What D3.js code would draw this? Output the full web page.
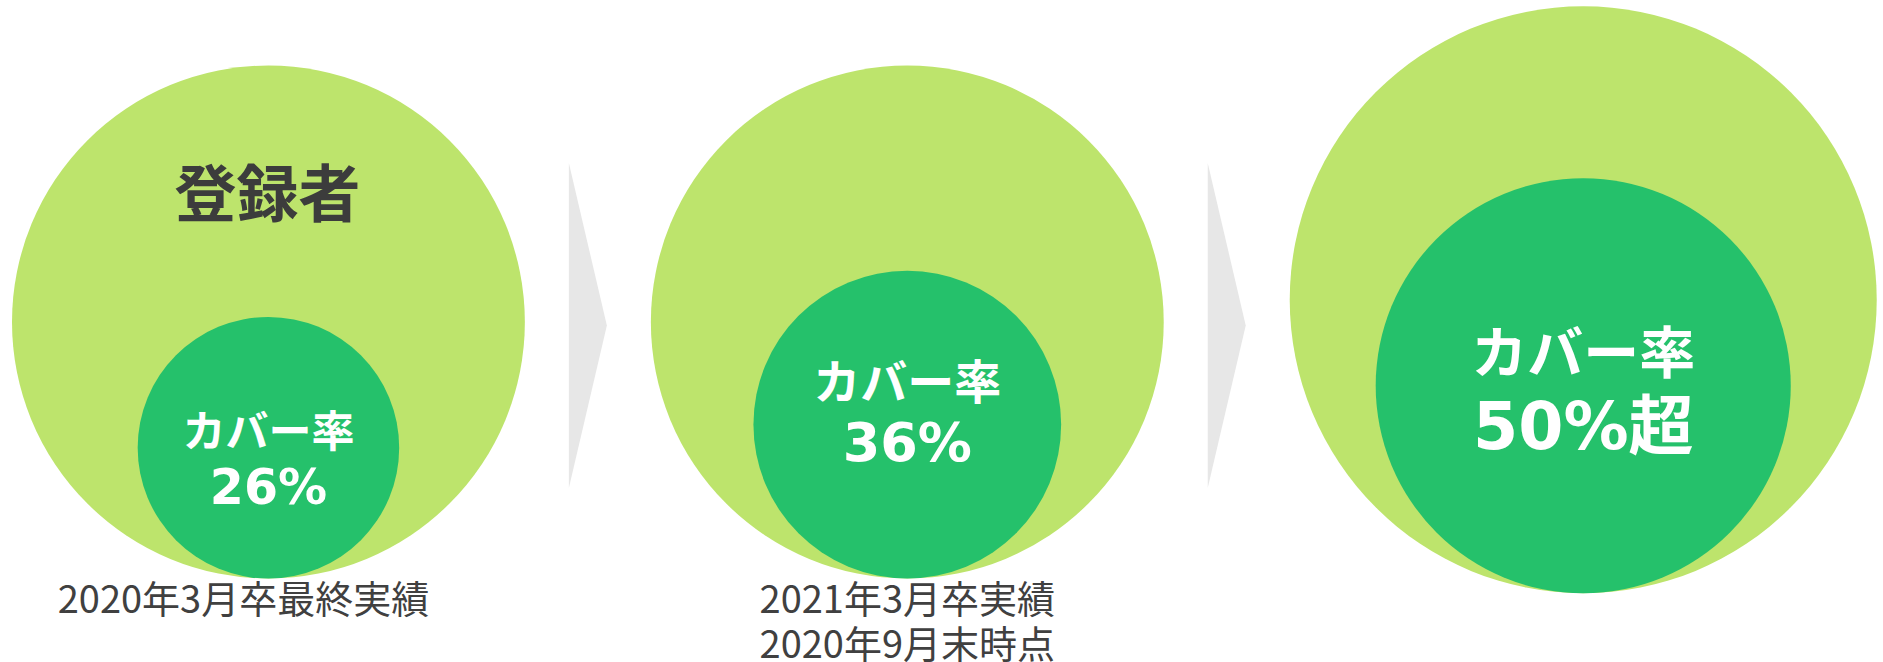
<!DOCTYPE html>
<html lang="ja">
<head>
<meta charset="utf-8">
<title>登録者とカバー率</title>
<script src="https://cdn.jsdelivr.net/npm/d3@7"></script>
<style>
  html, body { margin: 0; padding: 0; background: #ffffff; }
  svg { display: block; }
</style>
</head>
<body>
<svg id="chart"></svg>
<script>
// Data: registrant pool size (relative index) and coverage rate per period
const periods = ["2020年3月卒", "2021年3月卒", "目標"];
const registrantIndex = [100, 100, 131];
const coverageRate = [26, 36, 50];
const coverageText = ["26%", "36%", "50%超"];
const coverageTitle = "カバー率";
const outerTitle = "登録者";
const captions = [["2020年3月卒最終実績"], ["2021年3月卒実績", "2020年9月末時点"], []];

// Layout and style
const W = 1883, H = 662;
const leftEdge = 12, gap = 126, baseY = 322;
const outerColor = "#bde46c", innerColor = "#25c16b", arrowColor = "#e7e7e7";
const labelFont = [43, 47, 56];
const valueFont = [49, 54, 65];
const labelShiftY = [10, -14, 2];
const captionShift = [-25, 0, 0];
const cjk = "'Noto Sans CJK JP', 'Noto Sans', sans-serif";
const latin = "'DejaVu Sans', 'Noto Sans CJK JP', sans-serif";

const svg = d3.select("#chart").attr("width", W).attr("height", H);

// Outer circle area encodes registrant pool
const rOuter = d3.scaleSqrt().domain([0, d3.max(registrantIndex)]).range([0, 293.5]);
const rMin = rOuter(d3.min(registrantIndex));

// Position circles left to right with a constant gap between them
const panels = [];
let cursor = leftEdge;
periods.forEach((p, i) => {
  const r = rOuter(registrantIndex[i]);
  const cx = cursor + r;
  const cy = baseY - (r - rMin) * 0.6;
  // Inner circle area is the coverage share of the outer circle, tangent at the bottom
  const rInner = d3.scaleSqrt().domain([0, 100]).range([0, r])(coverageRate[i]);
  panels.push({ i, p, r, cx, cy, rInner, icy: cy + r - rInner });
  cursor += 2 * r + gap;
});

// Grey chevrons between panels
const arrowMidY = 325.5, arrowHalfH = 162.5, arrowHalfW = 19;
for (let k = 0; k < panels.length - 1; k++) {
  const a = panels[k], b = panels[k + 1];
  const mx = ((a.cx + a.r) + (b.cx - b.r)) / 2;
  svg.append("path")
    .attr("d", d3.line()([
      [mx - arrowHalfW, arrowMidY - arrowHalfH],
      [mx + arrowHalfW, arrowMidY],
      [mx - arrowHalfW, arrowMidY + arrowHalfH]
    ]) + "Z")
    .attr("fill", arrowColor);
}

const g = svg.selectAll("g.panel").data(panels).join("g").attr("class", "panel");

g.append("circle")
  .attr("cx", d => d.cx).attr("cy", d => d.cy).attr("r", d => d.r)
  .attr("fill", outerColor);

g.append("circle")
  .attr("cx", d => d.cx).attr("cy", d => d.icy).attr("r", d => d.rInner)
  .attr("fill", innerColor);

// "登録者" heading in the first outer circle
const first = panels[0];
svg.append("text")
  .attr("x", first.cx - 1).attr("y", first.cy - 0.515 * first.r)
  .attr("text-anchor", "middle").attr("dominant-baseline", "central")
  .style("font-family", cjk).style("font-weight", 700).style("font-size", "62px")
  .attr("fill", "#3c3c3c")
  .text(outerTitle);

// Coverage labels inside the inner circles
g.each(function(d) {
  const sel = d3.select(this);
  const gapY = valueFont[d.i] * 1.2;
  const mid = d.icy + labelShiftY[d.i];
  sel.append("text")
    .attr("x", d.cx).attr("y", mid - gapY / 2)
    .attr("text-anchor", "middle").attr("dominant-baseline", "central")
    .style("font-family", cjk).style("font-weight", 700)
    .style("font-size", labelFont[d.i] + "px")
    .attr("fill", "#ffffff")
    .text(coverageTitle);
  sel.append("text")
    .attr("x", d.cx).attr("y", mid + gapY / 2)
    .attr("text-anchor", "middle").attr("dominant-baseline", "central")
    .style("font-family", latin).style("font-weight", 700)
    .style("font-size", valueFont[d.i] + "px")
    .attr("fill", "#ffffff")
    .text(coverageText[d.i]);

  // Period captions under the circles (one text element, one tspan per line)
  if (captions[d.i].length) {
    const t = sel.append("text")
      .attr("x", d.cx + captionShift[d.i])
      .attr("y", d.cy + d.r + 35)
      .attr("text-anchor", "middle")
      .style("font-family", cjk).style("font-weight", 400).style("font-size", "38px")
      .attr("fill", "#404040");
    captions[d.i].forEach((line, j) => {
      t.append("tspan")
        .attr("x", d.cx + captionShift[d.i])
        .attr("dy", j === 0 ? 0 : 45)
        .text(line);
    });
  }
});
</script>
</body>
</html>
